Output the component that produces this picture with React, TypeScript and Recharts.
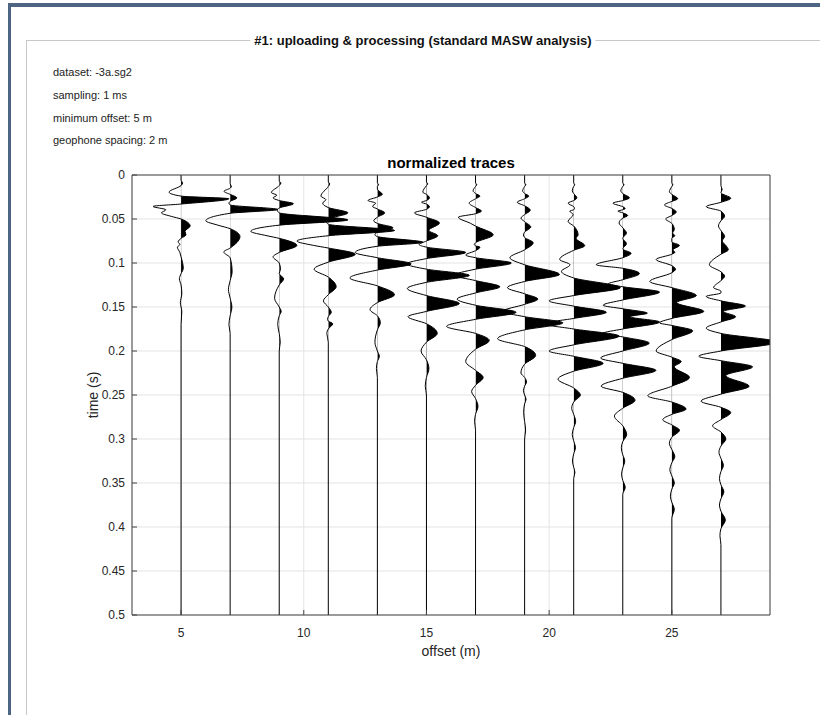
import React from 'react';
import { ComposedChart, Line, Area, XAxis, YAxis, CartesianGrid, ReferenceArea } from 'recharts';

// geophone offsets (m)
const OFFSETS = [5, 7, 9, 11, 13, 15, 17, 19, 21, 23, 25, 27];

// each trace: [time (s), normalized amplitude in offset units]
const TRACE_5: [number, number][] = [[0,0],[0.006,0],[0.009,0.06],[0.012,0],[0.0195,-0.49],[0.024,0],[0.027,1.95],[0.033,0],[0.0357,-1.14],[0.0395,-0.62],[0.043,-0.8],[0.047,-0.4],[0.05,0],[0.058,0.37],[0.064,0.16],[0.068,0.2],[0.072,0],[0.076,-0.12],[0.079,-0.05],[0.082,-0.15],[0.088,-0.05],[0.093,0],[0.106,0.09],[0.112,0],[0.118,-0.07],[0.125,0],[0.135,0.03],[0.14,0],[0.145,-0.03],[0.15,0],[0.155,0.03],[0.17,0],[0.5,0]];
const TRACE_7: [number, number][] = [[0,0],[0.01,0],[0.013,0.05],[0.015,0],[0.0185,-0.25],[0.022,0],[0.026,0.27],[0.03,0],[0.032,-0.05],[0.034,0],[0.0392,1.95],[0.0435,0],[0.052,-0.99],[0.057,-0.5],[0.061,0],[0.07,0.4],[0.083,0],[0.0875,-0.26],[0.094,0],[0.11,0.08],[0.12,0],[0.13,-0.07],[0.14,0],[0.15,0.07],[0.16,0],[0.17,-0.05],[0.18,0],[0.5,0]];
const TRACE_9: [number, number][] = [[0,0],[0.007,0],[0.009,0.07],[0.012,0],[0.02,-0.32],[0.023,-0.1],[0.026,-0.25],[0.029,0],[0.0326,0.58],[0.0375,0],[0.04,-0.08],[0.043,0],[0.051,2.8],[0.057,0],[0.064,-1.16],[0.069,-0.5],[0.072,0],[0.08,0.72],[0.088,0],[0.093,-0.25],[0.1,0],[0.107,0.05],[0.112,0],[0.118,0.18],[0.125,0],[0.14,-0.19],[0.15,0],[0.155,0.08],[0.16,0],[0.17,-0.06],[0.18,0],[0.19,0.04],[0.2,0],[0.5,0]];
const TRACE_11: [number, number][] = [[0,0],[0.008,0],[0.01,0.06],[0.013,0],[0.024,-0.3],[0.028,-0.1],[0.032,-0.23],[0.037,0],[0.043,0.8],[0.05,0],[0.053,-0.08],[0.056,0],[0.063,2.7],[0.069,0],[0.075,-1.28],[0.08,-0.6],[0.083,0],[0.09,1.1],[0.099,0],[0.107,-0.58],[0.116,0],[0.127,0.32],[0.136,0],[0.143,-0.2],[0.15,0],[0.156,0.12],[0.161,0],[0.164,-0.03],[0.166,0],[0.169,0.18],[0.175,0],[0.18,-0.06],[0.19,0],[0.5,0]];
const TRACE_13: [number, number][] = [[0,0],[0.009,0],[0.011,0.05],[0.013,0],[0.016,0],[0.022,0.2],[0.025,0],[0.029,-0.38],[0.032,-0.07],[0.0356,-0.2],[0.0386,0],[0.043,0.3],[0.048,0],[0.052,-0.15],[0.055,0],[0.06,0.64],[0.065,0],[0.068,-0.1],[0.07,0],[0.0765,1.86],[0.081,0],[0.088,-0.9],[0.094,0],[0.101,1.38],[0.108,0],[0.117,-1.12],[0.126,0],[0.136,0.7],[0.145,0],[0.153,-0.3],[0.16,0],[0.168,0.12],[0.176,0],[0.19,-0.1],[0.2,0],[0.206,0.08],[0.212,0],[0.22,-0.04],[0.23,0],[0.5,0]];
const TRACE_15: [number, number][] = [[0,0],[0.008,0],[0.01,0.05],[0.012,0],[0.0195,-0.15],[0.022,0],[0.026,0.12],[0.029,0],[0.031,-0.2],[0.033,0],[0.036,0.12],[0.039,0],[0.043,-0.49],[0.048,0],[0.0545,0.53],[0.063,0.1],[0.069,0.46],[0.075,0],[0.079,-0.3],[0.082,0],[0.088,1.6],[0.095,0],[0.101,-0.8],[0.107,0],[0.114,1.75],[0.122,0],[0.129,-0.78],[0.137,0],[0.146,1.34],[0.155,0],[0.161,-0.75],[0.169,0],[0.18,0.44],[0.19,0],[0.2,-0.22],[0.21,0],[0.22,0.1],[0.23,0],[0.24,-0.05],[0.25,0],[0.5,0]];
const TRACE_17: [number, number][] = [[0,0],[0.009,0],[0.011,0.05],[0.013,0],[0.018,-0.1],[0.021,0],[0.024,0.18],[0.027,0],[0.032,-0.26],[0.037,0],[0.041,0.24],[0.044,0],[0.048,-0.7],[0.055,-0.2],[0.058,0],[0.068,0.72],[0.077,0],[0.079,-0.05],[0.0805,0],[0.082,0.18],[0.086,0],[0.091,-0.4],[0.094,0],[0.1,1.46],[0.107,0],[0.114,-0.85],[0.12,0],[0.127,0.99],[0.134,0],[0.141,-0.75],[0.148,0],[0.156,1.65],[0.164,0],[0.172,-1.18],[0.18,0],[0.188,0.56],[0.198,0],[0.212,-0.4],[0.222,0],[0.23,0.31],[0.239,0],[0.246,-0.16],[0.254,0],[0.263,0.1],[0.272,0],[0.28,-0.04],[0.29,0],[0.5,0]];
const TRACE_19: [number, number][] = [[0,0],[0.009,0],[0.011,0.05],[0.013,0],[0.018,-0.08],[0.021,0],[0.024,0.17],[0.027,0],[0.031,-0.3],[0.035,0],[0.04,0.23],[0.045,0],[0.049,-0.15],[0.053,0],[0.059,0.25],[0.065,0],[0.068,-0.05],[0.071,0],[0.077,0.35],[0.085,0],[0.094,-0.6],[0.102,0],[0.113,1.42],[0.121,0],[0.128,-0.7],[0.135,0],[0.141,0.54],[0.147,0],[0.155,-0.9],[0.161,0],[0.168,1.56],[0.176,0],[0.186,-1.1],[0.195,0],[0.205,0.45],[0.215,0],[0.225,-0.15],[0.23,0],[0.235,0.08],[0.24,0],[0.245,-0.05],[0.25,0],[0.255,0.06],[0.26,0],[0.27,-0.04],[0.28,0],[0.29,0.04],[0.3,0],[0.5,0]];
const TRACE_21: [number, number][] = [[0,0],[0.009,0],[0.011,0.04],[0.013,0],[0.018,-0.06],[0.021,0],[0.026,0.13],[0.029,0],[0.032,-0.23],[0.036,0],[0.038,0.03],[0.0395,0],[0.041,-0.16],[0.045,-0.02],[0.0527,-0.23],[0.058,0],[0.068,0.18],[0.072,0.1],[0.0803,0.45],[0.0856,0],[0.096,-0.57],[0.102,-0.15],[0.1095,-0.5],[0.117,0],[0.128,1.9],[0.137,0],[0.143,-1.0],[0.149,0],[0.156,1.33],[0.163,0],[0.169,-1.2],[0.175,0],[0.183,1.85],[0.193,0],[0.2,-1.0],[0.206,0],[0.214,1.2],[0.223,0],[0.232,-0.64],[0.242,0],[0.25,0.27],[0.258,0],[0.265,-0.08],[0.272,0],[0.28,0.08],[0.287,0],[0.295,-0.06],[0.302,0],[0.31,0.07],[0.317,0],[0.325,-0.05],[0.332,0],[0.338,0.05],[0.345,0],[0.5,0]];
const TRACE_23: [number, number][] = [[0,0],[0.009,0],[0.011,0.05],[0.013,0],[0.018,-0.08],[0.021,0],[0.026,0.27],[0.029,0],[0.032,-0.4],[0.036,0],[0.038,0.1],[0.0395,0],[0.041,-0.2],[0.043,0],[0.046,0.2],[0.049,0],[0.0545,-0.15],[0.06,0],[0.066,0.15],[0.072,0],[0.078,0.15],[0.084,0],[0.089,0.34],[0.094,0],[0.102,-1.08],[0.106,0],[0.112,0.68],[0.119,0],[0.124,-0.6],[0.127,0],[0.133,1.5],[0.142,0],[0.148,-0.8],[0.152,0],[0.157,1.0],[0.161,0.3],[0.167,1.5],[0.175,0],[0.18,-0.8],[0.184,0],[0.191,1.08],[0.2,0],[0.208,-0.9],[0.214,0],[0.222,1.35],[0.231,0],[0.24,-0.88],[0.247,0],[0.256,0.5],[0.265,0],[0.274,-0.34],[0.285,0],[0.295,0.16],[0.303,0],[0.31,-0.06],[0.318,0],[0.325,0.08],[0.333,0],[0.34,-0.05],[0.347,0],[0.355,0.1],[0.363,0],[0.5,0]];
const TRACE_25: [number, number][] = [[0,0],[0.009,0],[0.011,0.04],[0.013,0],[0.019,-0.1],[0.022,0],[0.027,0.24],[0.03,0],[0.034,-0.3],[0.038,0],[0.042,0.18],[0.046,0],[0.05,-0.25],[0.055,0],[0.062,0.1],[0.066,0.03],[0.069,0.12],[0.072,0],[0.076,0],[0.08,0.31],[0.085,0.05],[0.088,0.12],[0.09,0],[0.096,-0.64],[0.103,0],[0.107,0.15],[0.111,0],[0.121,-0.9],[0.128,0],[0.137,1.0],[0.145,0.2],[0.155,1.3],[0.163,0],[0.168,-0.5],[0.171,0],[0.177,0.85],[0.187,0],[0.2,-0.64],[0.207,0],[0.212,0.38],[0.218,0.1],[0.23,0.72],[0.24,0],[0.251,-0.98],[0.258,0],[0.266,0.58],[0.272,0],[0.278,-0.37],[0.284,0],[0.29,0.31],[0.298,0],[0.305,-0.1],[0.312,0],[0.32,0.12],[0.327,0],[0.335,-0.08],[0.342,0],[0.35,0.1],[0.357,0],[0.365,-0.06],[0.372,0],[0.38,0.1],[0.39,0],[0.5,0]];
const TRACE_27: [number, number][] = [[0,0],[0.012,0],[0.0165,0.05],[0.02,0],[0.0265,0.4],[0.031,0],[0.036,-0.6],[0.041,0],[0.047,0.15],[0.052,0],[0.058,-0.1],[0.063,0],[0.07,0.15],[0.075,0.05],[0.08,0.2],[0.085,0.3],[0.09,0],[0.102,-0.47],[0.11,0],[0.115,0.15],[0.12,0],[0.128,-0.3],[0.132,0],[0.134,0],[0.138,-0.6],[0.143,0],[0.149,1.0],[0.155,0.1],[0.161,0.6],[0.167,0],[0.174,-0.6],[0.18,0],[0.19,2.3],[0.2,0],[0.206,-0.9],[0.211,0],[0.218,1.29],[0.228,0.2],[0.24,1.15],[0.249,0],[0.257,-0.81],[0.264,0],[0.27,0.4],[0.278,0],[0.285,-0.34],[0.292,0],[0.3,0.2],[0.308,0],[0.315,-0.08],[0.322,0],[0.33,0.1],[0.337,0],[0.345,-0.06],[0.352,0],[0.36,0.12],[0.368,0],[0.375,-0.06],[0.382,0],[0.392,0.18],[0.402,0],[0.41,-0.04],[0.42,0],[0.5,0]];

const TRACES = [TRACE_5, TRACE_7, TRACE_9, TRACE_11, TRACE_13, TRACE_15, TRACE_17, TRACE_19, TRACE_21, TRACE_23, TRACE_25, TRACE_27];

const X_TICKS = [5, 10, 15, 20, 25];
const Y_TICKS = [0, 0.05, 0.1, 0.15, 0.2, 0.25, 0.3, 0.35, 0.4, 0.45, 0.5];
const X_DOMAIN = [3, 29];
const Y_DOMAIN = [0, 0.5];

const PANEL_TITLE = '#1: uploading & processing (standard MASW analysis)';
const INFO_LINES = ['dataset: -3a.sg2', 'sampling: 1 ms', 'minimum offset: 5 m', 'geophone spacing: 2 m'];
const CHART_TITLE = 'normalized traces';
const X_LABEL = 'offset (m)';
const Y_LABEL = 'time (s)';

const FONT = '"Liberation Sans", Arial, Helvetica, sans-serif';

function buildSeries(offset: number, pts: [number, number][]) {
  return pts.map(([t, a]) => ({ t, v: offset + a, r: [offset, offset + a] }));
}

const SERIES = OFFSETS.map((o, i) => buildSeries(o, TRACES[i]));

export default function App() {
  const tickStyle = { fill: '#262626', fontSize: 12, fontFamily: FONT };
  return (
    <div style={{ position: 'absolute', left: 0, top: 0, width: 820, height: 715, background: '#fff', overflow: 'hidden', fontFamily: FONT }}>
      <div style={{ position: 'absolute', left: 8, top: 3, width: 812, height: 4, background: '#4d6482' }} />
      <div style={{ position: 'absolute', left: 8, top: 3, width: 3, height: 712, background: '#4d6482' }} />
      <div style={{ position: 'absolute', left: 26, top: 40, width: 800, height: 700, border: '1px solid #c8c8c8', boxSizing: 'border-box' }} />
      <div style={{ position: 'absolute', left: 423, top: 40, transform: 'translate(-50%, -50%)', background: '#fff', padding: '0 4px', fontWeight: 'bold', fontSize: 13, color: '#111', whiteSpace: 'nowrap' }}>{PANEL_TITLE}</div>
      {INFO_LINES.map((s, i) => (
        <div key={s} style={{ position: 'absolute', left: 53, top: [72, 95, 117.5, 140][i], transform: 'translateY(-50%)', fontSize: 11, color: '#222', whiteSpace: 'nowrap' }}>{s}</div>
      ))}
      <div style={{ position: 'absolute', left: 451, top: 162, transform: 'translate(-50%, -50%)', fontWeight: 'bold', fontSize: 15, color: '#000', whiteSpace: 'nowrap' }}>{CHART_TITLE}</div>
      <div style={{ position: 'absolute', left: 451, top: 651, transform: 'translate(-50%, -50%)', fontSize: 14, color: '#262626', whiteSpace: 'nowrap' }}>{X_LABEL}</div>
      <div style={{ position: 'absolute', left: 93, top: 395, transform: 'translate(-50%, -50%) rotate(-90deg)', fontSize: 14, color: '#262626', whiteSpace: 'nowrap' }}>{Y_LABEL}</div>
      <div style={{ position: 'absolute', left: 0, top: 0 }}>
        <ComposedChart width={820} height={715} layout="vertical" margin={{ top: 165, right: 40, bottom: 60, left: 72 }}>
          <CartesianGrid xAxisId="b" yAxisId="l" stroke="#e3e3e3" strokeWidth={1} />
          <XAxis xAxisId="b" type="number" orientation="bottom" domain={X_DOMAIN} ticks={X_TICKS} allowDataOverflow height={40}
            tickSize={-5} tickMargin={18} tick={tickStyle} axisLine={{ stroke: '#444' }} tickLine={{ stroke: '#444' }} />
          <XAxis xAxisId="t" type="number" orientation="top" domain={X_DOMAIN} ticks={X_TICKS} allowDataOverflow height={10}
            tickSize={-5} tick={false} axisLine={{ stroke: '#444' }} tickLine={{ stroke: '#444' }} />
          <YAxis yAxisId="l" type="number" dataKey="t" orientation="left" domain={Y_DOMAIN} ticks={Y_TICKS} allowDataOverflow width={60}
            tickSize={-5} tickMargin={12} tick={tickStyle} axisLine={{ stroke: '#444' }} tickLine={{ stroke: '#444' }} />
          <YAxis yAxisId="r" type="number" dataKey="t" orientation="right" domain={Y_DOMAIN} ticks={Y_TICKS} allowDataOverflow width={10}
            tickSize={-5} tick={false} axisLine={{ stroke: '#444' }} tickLine={{ stroke: '#444' }} />
          {OFFSETS.map((o, i) => (
            <ReferenceArea key={'c' + i} xAxisId="b" yAxisId="l" x1={o} x2={X_DOMAIN[1]} y1={Y_DOMAIN[0]} y2={Y_DOMAIN[1]}
              ifOverflow="visible"
              shape={(p: any) => (
                <clipPath id={`pos-side-${i}`}>
                  <rect x={p.x} y={p.y} width={Math.max(0, p.width)} height={Math.max(0, p.height)} />
                </clipPath>
              )} />
          ))}
          {SERIES.map((d, i) => (
            <Area key={'a' + i} xAxisId="b" yAxisId="l" data={d} dataKey="r" type="monotone" fill="#000" fillOpacity={1}
              stroke="none" clipPath={`url(#pos-side-${i})`} isAnimationActive={false} dot={false} activeDot={false} />
          ))}
          {SERIES.map((d, i) => (
            <Line key={'l' + i} xAxisId="b" yAxisId="l" data={d} dataKey="v" type="monotone" stroke="#000" strokeWidth={1}
              dot={false} activeDot={false} isAnimationActive={false} />
          ))}
        </ComposedChart>
      </div>
    </div>
  );
}
